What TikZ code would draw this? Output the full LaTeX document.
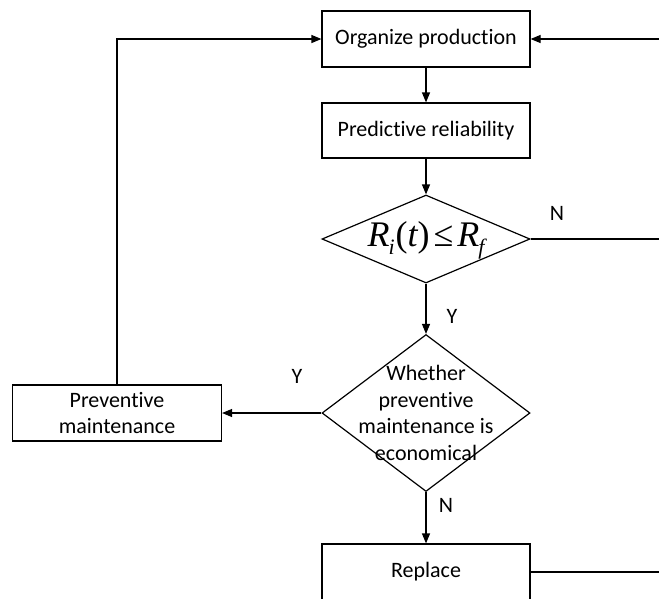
\documentclass[tikz,border=0pt]{standalone}
\usepackage{fontspec}
\setmainfont[Ligatures=NoCommon]{Carlito}
\newfontfamily\tms{Liberation Serif}
\usetikzlibrary{shapes.geometric,arrows.meta}
\begin{document}
\begin{tikzpicture}[x=1pt,y=-1pt,
  every node/.style={font=\fontsize{22}{26.7}\selectfont},
  box/.style={draw,line width=1.2pt,rectangle,minimum width=208pt,minimum height=56pt,inner sep=0pt,align=center},
  dia/.style={draw,line width=1.2pt,diamond,inner sep=0pt},
  conn/.style={line width=1.2pt},
  arr/.style={conn,-{Triangle[length=10pt,width=8pt]}},
  lbl/.style={inner sep=0pt}]
\useasboundingbox (0,0) rectangle (659,598);
\clip (0,0) rectangle (659,598);
\node[box] (org) at (426,39) {Organize production};
\node[box,minimum height=55pt] (pred) at (426,130.5) {Predictive reliability};
\node[dia,minimum width=208pt,minimum height=88pt] (d1) at (426,239) {};
\node[lbl] (d1t) at (426,240) {\tms\fontsize{36}{36}\selectfont\itshape R\kern-1pt\lower8pt\hbox{\fontsize{22}{22}\selectfont i}\kern1pt\upshape(\itshape t\upshape)\kern4pt≤\kern4pt\itshape R\kern-1pt\lower8pt\hbox{\fontsize{22}{22}\selectfont f}};
\node[dia,minimum width=208pt,minimum height=157pt] (d2) at (426,413) {};
\node[lbl,align=center] (d2t) at (426,413) {Whether\\preventive\\maintenance is\\economical};
\node[box,minimum width=209pt] (prev) at (117,413) {Preventive\\maintenance};
\node[box] (repl) at (426,572) {Replace};
\coordinate (r1) at (659,39);
\coordinate (r2) at (659,239);
\coordinate (r3) at (659,572);
\coordinate (lc) at (117,39);
\draw[arr] (org) -- (pred);
\draw[arr] (pred) -- (d1);
\draw[arr] (d1) -- (d2);
\draw[arr] (d2) -- (repl);
\draw[arr] (d2.west) -- (prev.east);
\draw[arr] (prev.north) -- (lc) -- (org.west);
\draw[arr] (r1) -- (org.east);
\draw[conn] (d1.east) -- (r2);
\draw[conn] (repl.east) -- (r3);
\node[lbl] (n1) at (557,213) {N};
\node[lbl] (y1) at (452,316) {Y};
\node[lbl] (y2) at (297,376) {Y};
\node[lbl] (n2) at (446,505) {N};
\end{tikzpicture}
\end{document}
